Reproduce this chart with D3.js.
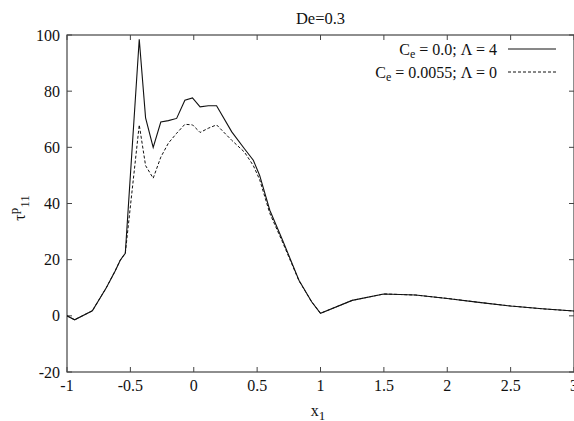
<!DOCTYPE html>
<html><head><meta charset="utf-8">
<script src="https://cdn.jsdelivr.net/npm/d3@7"></script>
<style>body{margin:0;background:#fff}svg{display:block}text{font-family:"Liberation Serif","DejaVu Serif",serif;fill:#111}</style>
</head><body><svg id="c" width="574" height="421"></svg>
<script>
const title = "De=0.3";
const xTicks = [-1, -0.5, 0, 0.5, 1, 1.5, 2, 2.5, 3];
const xTickLabels = ["-1", "-0.5", "0", "0.5", "1", "1.5", "2", "2.5", "3"];
const yTicks = [-20, 0, 20, 40, 60, 80, 100];
const yTickLabels = ["-20", "0", "20", "40", "60", "80", "100"];
const xs = [-1, -0.94, -0.8, -0.69, -0.62, -0.58, -0.54, -0.43, -0.38, -0.32, -0.26, -0.2, -0.135, -0.07, -0.01, 0.05, 0.115, 0.18, 0.3, 0.4, 0.47, 0.52, 0.6, 0.7, 0.83, 0.93, 1.0, 1.25, 1.5, 1.75, 2, 2.25, 2.5, 2.75, 3];
const solidVals = [0, -1.4, 1.8, 10, 16, 19.8, 22.3, 98.5, 70.5, 60, 69, 69.5, 70.3, 76.8, 77.6, 74.4, 74.8, 74.8, 65.5, 59.5, 55.4, 50, 37.6, 27, 12.7, 5, 0.9, 5.5, 7.8, 7.4, 6.2, 4.8, 3.5, 2.5, 1.7];
const dashedVals = [0, -1.4, 1.8, 10, 16, 19.8, 22.3, 68, 53.5, 49, 56.5, 61.5, 65, 68.2, 68, 65.3, 66.8, 68, 62.5, 58.3, 53.5, 48.5, 36.5, 26.3, 12.5, 5, 0.9, 5.5, 7.8, 7.4, 6.2, 4.8, 3.5, 2.5, 1.7];
const seriesNames = ["C_e = 0.0; Λ = 4", "C_e = 0.0055; Λ = 0"];

const svg = d3.select("#c");
const L = 67, R = 574, T = 35, B = 372;
const x = d3.scaleLinear().domain([-1, 3]).range([L, R]);
const y = d3.scaleLinear().domain([-20, 100]).range([B, T]);
const axisCol = "#444";

// frame
svg.append("rect").attr("x", L).attr("y", T).attr("width", R - L).attr("height", B - T)
  .attr("fill", "none").attr("stroke", axisCol).attr("stroke-width", 1.2);

// ticks (inward, mirrored)
const tl = 5;
xTicks.forEach((v, i) => {
  const px = x(v);
  svg.append("line").attr("x1", px).attr("x2", px).attr("y1", B).attr("y2", B - tl).attr("stroke", axisCol);
  svg.append("line").attr("x1", px).attr("x2", px).attr("y1", T).attr("y2", T + tl).attr("stroke", axisCol);
  svg.append("text").attr("x", px).attr("y", 385).attr("text-anchor", "middle")
    .attr("dominant-baseline", "central").attr("font-size", 16).text(xTickLabels[i]);
});
yTicks.forEach((v, i) => {
  const py = y(v);
  svg.append("line").attr("x1", L).attr("x2", L + tl).attr("y1", py).attr("y2", py).attr("stroke", axisCol);
  svg.append("line").attr("x1", R).attr("x2", R - tl).attr("y1", py).attr("y2", py).attr("stroke", axisCol);
  svg.append("text").attr("x", 60).attr("y", py).attr("text-anchor", "end")
    .attr("dominant-baseline", "central").attr("font-size", 16).text(yTickLabels[i]);
});

// title
svg.append("text").attr("x", (L + R) / 2).attr("y", 18).attr("text-anchor", "middle")
  .attr("dominant-baseline", "central").attr("font-size", 16.5).text(title);

// x label
const xl = svg.append("text").attr("x", 318).attr("y", 410).attr("text-anchor", "middle")
  .attr("dominant-baseline", "central").attr("font-size", 16);
xl.append("tspan").text("x");
xl.append("tspan").attr("dy", 5).attr("font-size", 13).text("1");

// y label
const yl = svg.append("text").attr("transform", "translate(25,208) rotate(-90)")
  .attr("text-anchor", "middle").attr("font-size", 16);
yl.append("tspan").text("τ");
yl.append("tspan").attr("dy", -7).attr("font-size", 13).text("p");
yl.append("tspan").attr("dy", 11).attr("font-size", 13).text("11");

// lines
const line = d3.line().x(d => x(d[0])).y(d => y(d[1]));
svg.append("clipPath").attr("id", "pc").append("rect")
  .attr("x", L).attr("y", T).attr("width", R - L).attr("height", B - T);
svg.append("path").datum(xs.map((v, i) => [v, dashedVals[i]])).attr("d", line)
  .attr("fill", "none").attr("stroke", "#111").attr("stroke-width", 1).attr("stroke-dasharray", "3,2")
  .attr("clip-path", "url(#pc)");
svg.append("path").datum(xs.map((v, i) => [v, solidVals[i]])).attr("d", line)
  .attr("fill", "none").attr("stroke", "#111").attr("stroke-width", 1.1)
  .attr("clip-path", "url(#pc)");

// legend
const legRows = [{ y: 49, dash: null }, { y: 72, dash: "3,2" }];
legRows.forEach((r, i) => {
  const parts = seriesNames[i].split("_e");
  const t = svg.append("text").attr("x", 497).attr("y", r.y).attr("text-anchor", "end")
    .attr("dominant-baseline", "central").attr("font-size", 16);
  t.append("tspan").text(parts[0]);
  t.append("tspan").attr("dy", 5).attr("font-size", 12).text("e");
  t.append("tspan").attr("dy", -5).text(parts[1]);
  const ln = svg.append("line").attr("x1", 508).attr("x2", 556).attr("y1", r.y).attr("y2", r.y)
    .attr("stroke", "#111").attr("stroke-width", 1);
  if (r.dash) ln.attr("stroke-dasharray", r.dash);
});
</script></body></html>
